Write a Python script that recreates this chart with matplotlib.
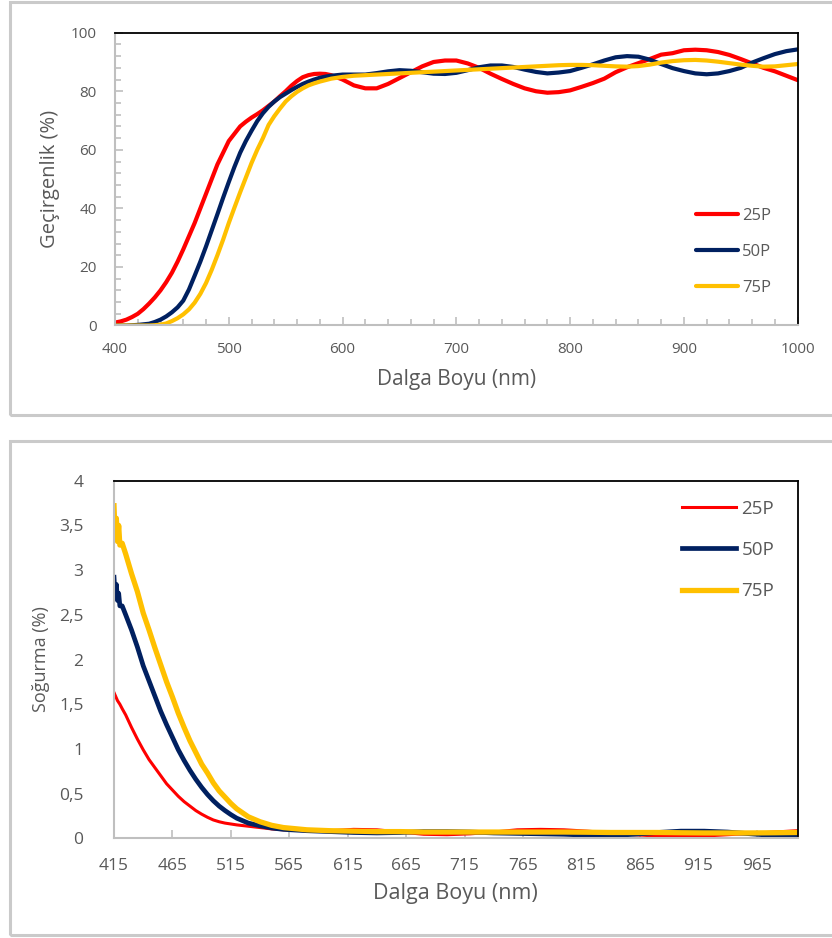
import matplotlib.pyplot as plt
import numpy as np
from matplotlib.patches import Rectangle
from matplotlib.ticker import MultipleLocator, FixedLocator, FuncFormatter

plt.rcParams['font.family'] = ['Open Sans', 'DejaVu Sans']

# ---- data: transmittance (top panel) ----
# 5 nm steps up to 590 nm, then 10 nm steps
wl_trans = np.r_[400:595:5, 600:1001:10]
trans_25p = [1.0, 1.4, 2.0, 2.9, 4.0, 5.6, 7.5, 9.6, 12, 14.8, 18, 21.8, 26, 30.5, 35, 40, 45,
             50, 55, 59, 63, 65.5, 68, 69.6, 71, 72.2, 73.5, 75, 76.5, 78.3, 80, 81.9, 83.5,
             84.8, 85.5, 85.9, 86, 85.9, 85.5,
             84, 82, 81, 81, 82.5, 84.5, 86.5, 88.5, 90, 90.5, 90.5, 89.5, 88,
             86, 84.2, 82.5, 81, 80, 79.5, 79.7, 80.3, 81.5, 82.8, 84.3, 86.5, 88.2, 89.6, 91,
             92.5, 93, 94, 94.2, 94, 93.4, 92.4, 91, 89.5, 88, 86.8, 85.3, 83.8]
trans_50p = [0, 0, 0, 0.1, 0.2, 0.4, 0.6, 1.2, 2.0, 3.1, 4.5, 6.2, 8.5, 12.3, 17, 21.8, 27,
             32.5, 38, 43.6, 49, 54.2, 59, 63, 66.5, 69.8, 72.5, 74.7, 76.5, 78, 79.2, 80.4,
             81.5, 82.5, 83.3, 84, 84.6, 85, 85.3,
             85.7, 85.7, 85.7, 86.2, 86.8, 87.2, 87, 86.5, 86, 85.9, 86.3,
             87.2, 88.2, 88.8, 88.8, 88.3, 87.4, 86.6, 86.1, 86.4, 86.9, 88, 89.2, 90.5, 91.6,
             92, 91.8, 90.8, 89.3, 87.9, 86.9, 86.1, 85.8, 86.1, 86.9, 88, 89.8, 91.3, 92.7,
             93.7, 94.3]
trans_75p = [0, 0, 0, 0, 0, 0, 0, 0.1, 0.3, 0.7, 1.5, 2.5, 3.8, 5.5, 7.8, 10.8, 14.5, 19, 24,
             29.3, 35, 40.3, 45.5, 50.5, 55.5, 60, 64, 68.5, 71.5, 74.1, 76.5, 78.3, 79.8, 81,
             82, 82.7, 83.3, 83.8, 84.3,
             84.9, 85.3, 85.5, 85.7, 85.9, 86.1, 86.3, 86.5, 86.7, 86.9, 87.1,
             87.3, 87.5, 87.7, 87.9, 88.1, 88.3, 88.5, 88.7, 88.9, 89, 89, 88.9, 88.7, 88.5,
             88.4, 88.6, 89.1, 89.8, 90.3, 90.6, 90.7, 90.5, 90.1, 89.6, 89.1, 88.7, 88.4,
             88.5, 88.9, 89.3]

# ---- data: absorbance (bottom panel) ----
wl_abs = [415, 416, 417, 418, 419, 420, 422, 425, 430, 435, 440, 445, 450, 455, 460, 465, 470,
          475, 480, 485, 490, 495, 500, 505, 510, 515, 520, 530, 540, 550, 560, 580, 600, 620,
          640, 660, 680, 700, 720, 740, 760, 780, 800, 820, 840, 860, 880, 900, 920, 940, 960,
          980, 1000]
abs_25p = [1.63, 1.60, 1.57, 1.54, 1.52, 1.50, 1.45, 1.38, 1.24, 1.11, 0.99, 0.88, 0.79, 0.70,
           0.61, 0.54, 0.47, 0.41, 0.36, 0.31, 0.27, 0.235, 0.205, 0.185, 0.17, 0.16, 0.15,
           0.135, 0.12, 0.105, 0.095, 0.085, 0.085, 0.1, 0.095, 0.07, 0.045, 0.04, 0.05, 0.07,
           0.095, 0.1, 0.095, 0.08, 0.06, 0.04, 0.025, 0.02, 0.025, 0.04, 0.055, 0.07, 0.085]
abs_50p = [2.92, 2.7, 2.84, 2.66, 2.74, 2.6, 2.6, 2.5, 2.33, 2.14, 1.93, 1.76, 1.59, 1.42, 1.27,
           1.13, 0.99, 0.87, 0.76, 0.66, 0.57, 0.49, 0.42, 0.36, 0.31, 0.265, 0.225, 0.17,
           0.14, 0.115, 0.1, 0.085, 0.075, 0.065, 0.06, 0.065, 0.075, 0.075, 0.07, 0.06, 0.055,
           0.05, 0.045, 0.035, 0.03, 0.045, 0.065, 0.08, 0.08, 0.07, 0.05, 0.03, 0.015]
abs_75p = [3.72, 3.36, 3.58, 3.32, 3.5, 3.28, 3.3, 3.18, 2.96, 2.76, 2.52, 2.33, 2.13, 1.94,
           1.75, 1.58, 1.40, 1.24, 1.09, 0.96, 0.83, 0.73, 0.62, 0.53, 0.46, 0.39, 0.33, 0.24,
           0.185, 0.145, 0.12, 0.095, 0.085, 0.08, 0.075, 0.075, 0.07, 0.07, 0.07, 0.07, 0.07,
           0.07, 0.07, 0.068, 0.065, 0.065, 0.065, 0.062, 0.06, 0.06, 0.06, 0.062, 0.065]

labels = ['25P', '50P', '75P']
colors = ['#FF0000', '#002060', '#FFC000']
text_gray = '#595959'
spine_gray = '#BFBFBF'

W, H = 832, 938
fig = plt.figure(figsize=(W / 100, H / 100), dpi=100)


def px_axes(left, top, right, bottom):
    return fig.add_axes([left / W, 1 - bottom / H, (right - left) / W, (bottom - top) / H])


def style_axes(ax):
    ax.spines['left'].set_color(spine_gray)
    ax.spines['bottom'].set_color(spine_gray)
    ax.spines['left'].set_linewidth(1.5)
    ax.spines['bottom'].set_linewidth(1.5)
    ax.spines['top'].set_color('black')
    ax.spines['right'].set_color('black')
    ax.spines['top'].set_linewidth(1.3)
    ax.spines['right'].set_linewidth(1.3)


# panel frames
for top, bottom in [(2, 415), (441, 935)]:
    fig.patches.append(Rectangle((10 / W, 1 - bottom / H), (W + 10) / W, (bottom - top) / H,
                                 transform=fig.transFigure, fill=False,
                                 edgecolor='#CACACA', linewidth=2.2))

# ---- top: transmittance ----
ax1 = px_axes(115, 32.7, 797.7, 325.5)
for y, lab, c in zip([trans_25p, trans_50p, trans_75p], labels, colors):
    ax1.plot(wl_trans, y, color=c, linewidth=3.0, label=lab, solid_capstyle='round')
ax1.set_xlim(400, 1000)
ax1.set_ylim(0, 100)
ax1.xaxis.set_major_locator(MultipleLocator(100))
ax1.xaxis.set_minor_locator(MultipleLocator(20))
ax1.yaxis.set_major_locator(MultipleLocator(20))
ax1.yaxis.set_minor_locator(MultipleLocator(4))
ax1.tick_params(which='both', direction='in', color=spine_gray, width=1.2)
ax1.tick_params(which='major', length=6)
ax1.tick_params(which='minor', length=4.5)
ax1.tick_params(axis='x', which='major', pad=12, labelsize=11, labelcolor=text_gray)
ax1.tick_params(axis='y', which='major', pad=13, labelsize=11, labelcolor=text_gray)
style_axes(ax1)
ax1.set_xlabel('Dalga Boyu (nm)', fontsize=15, color=text_gray)
ax1.set_ylabel('Geçirgenlik (%)', fontsize=14.5, color=text_gray)
ax1.xaxis.set_label_coords(0.5, -(380 - 325.5) / 292.8)
ax1.xaxis.label.set_va('center')
ax1.yaxis.set_label_coords(-(115 - 50) / 682.7, 0.5)
ax1.yaxis.label.set_va('center')
ax1.legend(loc='center left', bbox_to_anchor=(696 / W, 1 - 252 / H),
           bbox_transform=fig.transFigure, frameon=False, fontsize=12,
           labelcolor=text_gray, handlelength=2.5, handletextpad=0.25,
           labelspacing=1.2, borderpad=0, borderaxespad=0)

# ---- bottom: absorbance ----
ax2 = px_axes(114, 480.7, 797.7, 838.3)
widths = [2.2, 3.4, 3.8]
for y, lab, c, lw in zip([abs_25p, abs_50p, abs_75p], labels, colors, widths):
    ax2.plot(wl_abs, y, color=c, linewidth=lw, label=lab)
ax2.set_xlim(415, 1000)
ax2.set_ylim(0, 4)
ax2.xaxis.set_major_locator(FixedLocator(np.arange(415, 1000, 50)))
ax2.yaxis.set_major_locator(MultipleLocator(0.5))
ax2.yaxis.set_major_formatter(FuncFormatter(lambda v, p: f'{v:g}'.replace('.', ',')))
ax2.tick_params(axis='x', direction='in', length=6, color=spine_gray, width=1.2,
                pad=14, labelsize=12.5, labelcolor=text_gray)
ax2.tick_params(axis='y', length=0, pad=22, labelsize=12.5, labelcolor=text_gray)
style_axes(ax2)
ax2.set_xlabel('Dalga Boyu (nm)', fontsize=15.5, color=text_gray)
ax2.set_ylabel('Soğurma (%)', fontsize=13, color=text_gray)
ax2.xaxis.set_label_coords(0.5, -(893 - 838.3) / 357.6)
ax2.xaxis.label.set_va('center')
ax2.yaxis.set_label_coords(-(114 - 41) / 683.7, 0.5)
ax2.yaxis.label.set_va('center')
ax2.legend(loc='center left', bbox_to_anchor=(682 / W, 1 - 550 / H),
           bbox_transform=fig.transFigure, frameon=False, fontsize=13.5,
           labelcolor=text_gray, handlelength=2.9, handletextpad=0.28,
           labelspacing=1.25, borderpad=0, borderaxespad=0)

fig.savefig('out.png', dpi=100)
